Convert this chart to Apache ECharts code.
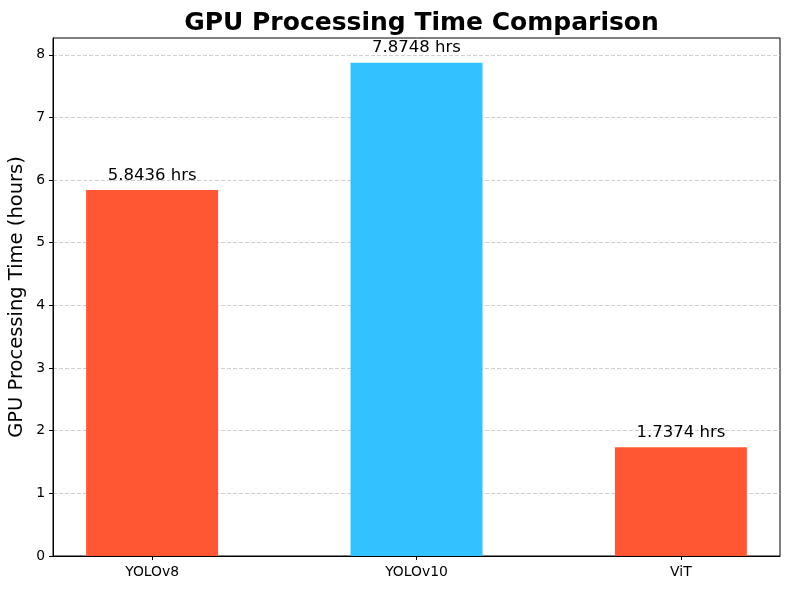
<!DOCTYPE html>
<html><head><meta charset="utf-8">
<script src="https://cdn.jsdelivr.net/npm/echarts@6/dist/echarts.min.js"></script>
<style>html,body{margin:0;padding:0;background:#fff}#c{width:790px;height:590px}</style>
</head><body><div id="c"></div>
<script>
const categories = ['YOLOv8', 'YOLOv10', 'ViT'];
const hours = [5.8436, 7.8748, 1.7374];
const barColors = ['#FF5733', '#33C1FF', '#FF5733'];
const yTicks = [0, 1, 2, 3, 4, 5, 6, 7, 8];
const xTicks = [0, 1, 2];

const chart = echarts.init(document.getElementById('c'), null, {renderer: 'canvas'});
const font = 'DejaVu Sans';
chart.setOption({
  animation: false,
  title: {
    text: 'GPU Processing Time Comparison',
    left: 416.5, top: 6, textAlign: 'center',
    textStyle: {fontFamily: font, fontWeight: 'bold', fontSize: 25, color: '#000'}
  },
  grid: {left: 53, top: 38, right: 10, bottom: 34, show: true, borderColor: '#000', borderWidth: 1, containLabel: false, outerBoundsMode: 'none'},
  xAxis: {
    type: 'value', min: -0.375, max: 2.375,
    axisLine: {show: true, onZero: false, lineStyle: {color: '#000'}},
    splitLine: {show: false},
    axisTick: {show: true, customValues: xTicks, length: 4, inside: false, lineStyle: {color: '#000', width: 1}},
    axisLabel: {customValues: xTicks, formatter: v => categories[Math.round(v)] || '', fontFamily: font, fontSize: 13.9, color: '#000', margin: 9}
  },
  yAxis: {
    type: 'value', min: 0, max: 8.268,
    name: 'GPU Processing Time (hours)', nameLocation: 'middle', nameGap: 26, nameMoveOverlap: false,
    nameTextStyle: {fontFamily: font, fontSize: 19.5, color: '#000'},
    axisLine: {show: true, onZero: false, lineStyle: {color: '#000'}},
    axisTick: {show: true, customValues: yTicks, length: 4, lineStyle: {color: '#000'}},
    axisLabel: {customValues: yTicks, fontFamily: font, fontSize: 13.9, color: '#000', margin: 8},
    splitLine: {show: true, customValues: yTicks, lineStyle: {color: '#c4c4c4', type: [4, 2], width: 0.8}}
  },
  series: [{
    type: 'bar', barWidth: 132,
    data: hours.map((v, i) => ({value: [i, v], itemStyle: {color: barColors[i]}})),
    label: {show: true, position: 'top', distance: 6, formatter: p => p.value[1].toFixed(4) + ' hrs', fontFamily: font, fontSize: 16.5, color: '#000'}
  }]
});
</script></body></html>
